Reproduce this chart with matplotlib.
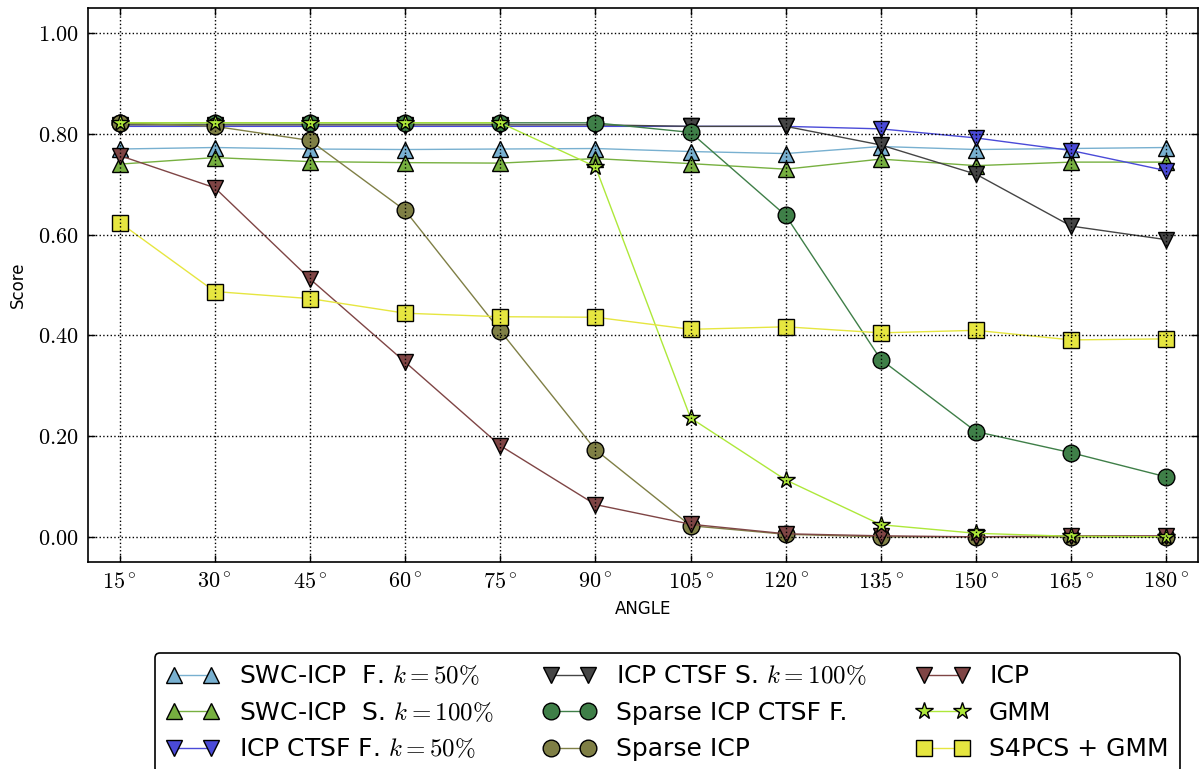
import matplotlib
matplotlib.use("Agg")
import matplotlib.pyplot as plt
import numpy as np

plt.rcParams['mathtext.fontset'] = 'cm'
plt.rcParams['font.family'] = ['DejaVu Sans']

angles = [15, 30, 45, 60, 75, 90, 105, 120, 135, 150, 165, 180]
angle_labels = [r'$%d^\circ$' % a for a in angles]
yticks = [0.0, 0.2, 0.4, 0.6, 0.8, 1.0]
ytick_labels = [r'$%.2f$' % v for v in yticks]

swc_f = [0.770, 0.773, 0.770, 0.769, 0.770, 0.771, 0.765, 0.761, 0.775, 0.769, 0.771, 0.773]
swc_s = [0.740, 0.753, 0.745, 0.743, 0.742, 0.751, 0.741, 0.730, 0.750, 0.737, 0.744, 0.744]
ctsf_f = [0.815, 0.815, 0.815, 0.815, 0.815, 0.815, 0.815, 0.815, 0.810, 0.792, 0.767, 0.727]
ctsf_s = [0.818, 0.818, 0.818, 0.818, 0.818, 0.818, 0.815, 0.815, 0.778, 0.720, 0.617, 0.590]
sparse_ctsf = [0.822, 0.822, 0.822, 0.822, 0.822, 0.822, 0.803, 0.638, 0.352, 0.209, 0.167, 0.119]
sparse_icp = [0.822, 0.815, 0.787, 0.648, 0.409, 0.173, 0.022, 0.005, 0.000, 0.000, 0.000, 0.000]
icp = [0.757, 0.693, 0.512, 0.347, 0.181, 0.064, 0.025, 0.006, 0.002, 0.000, 0.002, 0.002]
gmm = [0.822, 0.822, 0.822, 0.822, 0.822, 0.735, 0.236, 0.113, 0.024, 0.007, 0.001, 0.000]
s4pcs = [0.624, 0.487, 0.473, 0.444, 0.437, 0.436, 0.412, 0.417, 0.405, 0.410, 0.391, 0.393]

series = [
    (swc_f, r'SWC-ICP  F. $k=50\%$', '^', '#78b0d0'),
    (swc_s, r'SWC-ICP  S. $k=100\%$', '^', '#77b040'),
    (ctsf_f, r'ICP CTSF F. $k=50\%$', 'v', '#4a4ad8'),
    (ctsf_s, r'ICP CTSF S. $k=100\%$', 'v', '#454545'),
    (sparse_ctsf, 'Sparse ICP CTSF F.', 'o', '#3f7f48'),
    (sparse_icp, 'Sparse ICP', 'o', '#7f7f45'),
    (icp, 'ICP', 'v', '#7f4545'),
    (gmm, 'GMM', '*', '#aee83a'),
    (s4pcs, 'S4PCS + GMM', 's', '#e6e640'),
]

fig = plt.figure(figsize=(12.04, 7.69), dpi=100, facecolor='white')
ax = fig.add_axes([88/1204, 1-562/769, 1110/1204, 554/769])

for vals, label, m, c in series:
    ax.plot(angles, vals, color=c, marker=m, markersize=12 if m != '*' else 13,
            markerfacecolor=c, markeredgecolor='black', markeredgewidth=1.0,
            linewidth=1.0, label=label)

ax.set_xlim(10, 185)
ax.set_ylim(-0.05, 1.05)
ax.set_xticks(angles)
ax.set_xticklabels(angle_labels, fontsize=16)
ax.set_yticks(yticks)
ax.set_yticklabels(ytick_labels, fontsize=16)
ax.tick_params(direction='in', top=True, right=True, length=5, width=1, pad=7)
ax.grid(True, linestyle=':', color='black', linewidth=1.0)
ax.set_axisbelow(False)
for sp in ax.spines.values():
    sp.set_linewidth(1.2)
ax.set_xlabel('ANGLE', fontsize=12, labelpad=6)
ax.set_ylabel('Score', fontsize=12, labelpad=8)

leg = fig.legend(loc='upper left', bbox_to_anchor=(155/1204, 1-653/769),
                 bbox_transform=fig.transFigure, ncol=3, fontsize=18,
                 numpoints=2, fancybox=True, framealpha=1, edgecolor='black',
                 borderaxespad=0, handlelength=2.1, columnspacing=2.0,
                 handletextpad=0.8, labelspacing=0.5, borderpad=0.45)
leg.get_frame().set_linewidth(1.2)

fig.savefig('out.png', dpi=100, facecolor='white')
